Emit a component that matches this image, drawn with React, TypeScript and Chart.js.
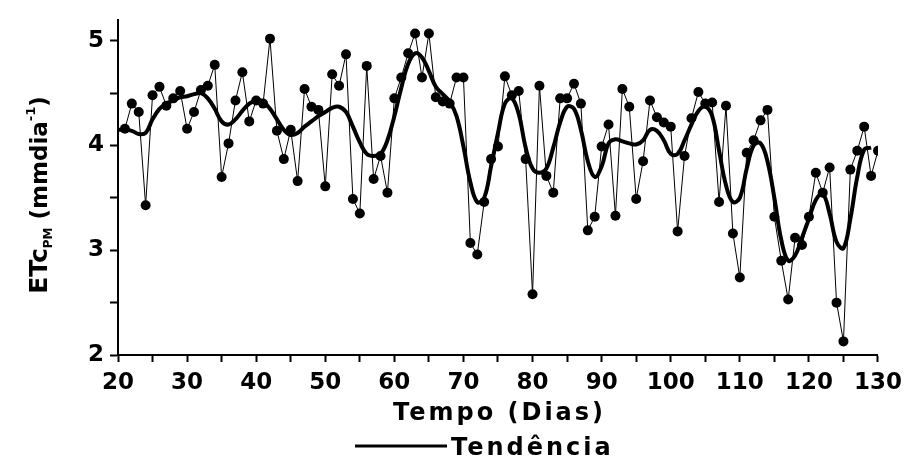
import React, { useEffect, useRef } from "react";
import { Chart, registerables } from "chart.js";

Chart.register(...registerables);

const days = [
  21, 22, 23, 24, 25, 26, 27, 28, 29, 30,
  31, 32, 33, 34, 35, 36, 37, 38, 39, 40,
  41, 42, 43, 44, 45, 46, 47, 48, 49, 50,
  51, 52, 53, 54, 55, 56, 57, 58, 59, 60,
  61, 62, 63, 64, 65, 66, 67, 68, 69, 70,
  71, 72, 73, 74, 75, 76, 77, 78, 79, 80,
  81, 82, 83, 84, 85, 86, 87, 88, 89, 90,
  91, 92, 93, 94, 95, 96, 97, 98, 99, 100,
  101, 102, 103, 104, 105, 106, 107, 108, 109, 110,
  111, 112, 113, 114, 115, 116, 117, 118, 119, 120,
  121, 122, 123, 124, 125, 126, 127, 128, 129, 130,
];

const etcValues = [
  4.16, 4.40, 4.32, 3.43, 4.48, 4.56, 4.38, 4.45, 4.52, 4.16,
  4.32, 4.53, 4.57, 4.77, 3.70, 4.02, 4.43, 4.70, 4.23, 4.43,
  4.40, 5.02, 4.14, 3.87, 4.15, 3.66, 4.54, 4.37, 4.34, 3.61,
  4.68, 4.57, 4.87, 3.49, 3.35, 4.76, 3.68, 3.90, 3.55, 4.45,
  4.65, 4.88, 5.07, 4.65, 5.07, 4.46, 4.42, 4.40, 4.65, 4.65,
  3.07, 2.96, 3.46, 3.87, 3.99, 4.66, 4.48, 4.52, 3.87, 2.58,
  4.57, 3.71, 3.55, 4.45, 4.45, 4.59, 4.40, 3.19, 3.32, 3.99,
  4.20, 3.33, 4.54, 4.37, 3.49, 3.85, 4.43, 4.27, 4.22, 4.18,
  3.18, 3.90, 4.26, 4.51, 4.40, 4.41, 3.46, 4.38, 3.16, 2.74,
  3.93, 4.05, 4.24, 4.34, 3.32, 2.90, 2.53, 3.12, 3.05, 3.32,
  3.74, 3.55, 3.79, 2.50, 2.13, 3.77, 3.95, 4.18, 3.71, 3.95,
];

const trendDays = [
  20, 21, 22, 23, 24, 25, 26, 27, 28, 29,
  30, 31, 32, 33, 34, 35, 36, 37, 38, 39,
  40, 41, 42, 43, 44, 45, 46, 47, 48, 49,
  50, 51, 52, 53, 54, 55, 56, 57, 58, 59,
  60, 61, 62, 63, 64, 65, 66, 67, 68, 69,
  70, 71, 72, 73, 74, 75, 76, 77, 78, 79,
  80, 81, 82, 83, 84, 85, 86, 87, 88, 89,
  90, 91, 92, 93, 94, 95, 96, 97, 98, 99,
  100, 101, 102, 103, 104, 105, 106, 107, 108, 109,
  110, 111, 112, 113, 114, 115, 116, 117, 118, 119,
  120, 121, 122, 123, 124, 125, 126, 127, 128, 129,
];

const trendValues = [
  4.15, 4.15, 4.14, 4.11, 4.12, 4.25, 4.35, 4.40, 4.43, 4.46,
  4.47, 4.49, 4.50, 4.45, 4.35, 4.23, 4.20, 4.25, 4.33, 4.40,
  4.43, 4.42, 4.35, 4.25, 4.15, 4.10, 4.12, 4.18, 4.23, 4.28,
  4.32, 4.36, 4.37, 4.32, 4.18, 4.03, 3.92, 3.90, 3.92, 4.05,
  4.28, 4.55, 4.78, 4.88, 4.84, 4.71, 4.56, 4.49, 4.42, 4.28,
  3.99, 3.65, 3.46, 3.50, 3.80, 4.12, 4.40, 4.45, 4.30, 3.98,
  3.78, 3.74, 3.78, 3.98, 4.22, 4.37, 4.35, 4.15, 3.85, 3.70,
  3.80, 4.02, 4.06, 4.04, 4.02, 4.01, 4.05, 4.15, 4.14, 4.05,
  3.92, 3.92, 4.05, 4.20, 4.33, 4.37, 4.28, 3.95, 3.62, 3.46,
  3.50, 3.78, 4.00, 4.02, 3.85, 3.50, 3.10, 2.90, 2.95, 3.12,
  3.30, 3.48, 3.54, 3.35, 3.08, 3.02, 3.30, 3.70, 3.96, 3.98,
];

const xTickLabels = [20, 30, 40, 50, 60, 70, 80, 90, 100, 110, 120, 130];
const xTickMarks = [20, 25, 30, 35, 40, 45, 50, 55, 60, 65, 70, 75, 80, 85, 90, 95, 100, 105, 110, 115, 120, 125, 130];
const yTickLabels = [2, 3, 4, 5];
const yTickMarks = [2, 2.5, 3, 3.5, 4, 4.5, 5];

const FONT = '"DejaVu Sans", "Liberation Sans", sans-serif';

const textPlugin = {
  id: "customText",
  afterDraw(chart: any) {
    const ctx = chart.ctx as CanvasRenderingContext2D;
    ctx.save();
    ctx.fillStyle = "#000";
    ctx.strokeStyle = "#000";
    (ctx as any).letterSpacing = "3px";
    ctx.font = `bold 24px ${FONT}`;
    ctx.textAlign = "left";
    ctx.textBaseline = "alphabetic";
    ctx.fillText("Tempo (Dias)", 393, 420);

    // legend
    ctx.lineWidth = 3;
    ctx.beginPath();
    ctx.moveTo(355, 446);
    ctx.lineTo(447, 446);
    ctx.stroke();
    ctx.fillText("Tendência", 451, 455);
    ctx.restore();

    // y axis title with sub/superscripts
    ctx.save();
    ctx.fillStyle = "#000";
    (ctx as any).letterSpacing = "0px";
    ctx.translate(47, 195);
    ctx.rotate(-Math.PI / 2);
    ctx.textAlign = "left";
    ctx.textBaseline = "alphabetic";
    const segs = [
      { t: "ETc", size: 25, dy: 0 },
      { t: "PM", size: 12, dy: 5 },
      { t: " (mmdia", size: 23, dy: 0 },
      { t: "-1", size: 13, dy: -12 },
      { t: ")", size: 23, dy: 0 },
    ];
    let total = 0;
    const widths: number[] = [];
    for (const s of segs) {
      ctx.font = `bold ${s.size}px ${FONT}`;
      const w = ctx.measureText(s.t).width;
      widths.push(w);
      total += w;
    }
    let x = -total / 2;
    segs.forEach((s, i) => {
      ctx.font = `bold ${s.size}px ${FONT}`;
      ctx.fillText(s.t, x, s.dy);
      x += widths[i];
    });
    ctx.restore();
  },
};

export default function App() {
  const ref = useRef<HTMLCanvasElement | null>(null);

  useEffect(() => {
    document.body.style.margin = "0";
    if (!ref.current) return;
    const chart = new Chart(ref.current, {
      type: "line",
      data: {
        datasets: [
          {
            label: "ETc",
            data: days.map((d, i) => ({ x: d, y: etcValues[i] })),
            borderColor: "#000",
            backgroundColor: "#000",
            borderWidth: 1,
            pointRadius: 5,
            pointBackgroundColor: "#000",
            pointBorderWidth: 0,
            tension: 0,
          },
          {
            label: "Tendência",
            data: trendDays.map((d, i) => ({ x: d, y: trendValues[i] })),
            borderColor: "#000",
            borderWidth: 4,
            pointRadius: 0,
            tension: 0.4,
          },
        ],
      },
      options: {
        responsive: false,
        animation: false,
        layout: { padding: { top: 15, right: 26, left: 0, bottom: 0 } },
        plugins: {
          legend: { display: false },
          tooltip: { enabled: false },
        },
        scales: {
          x: {
            type: "linear",
            min: 20,
            max: 130,
            afterFit(scale: any) {
              scale.height = 105;
            },
            afterBuildTicks(scale: any) {
              scale.ticks = xTickMarks.map((v) => ({ value: v }));
            },
            ticks: {
              autoSkip: false,
              maxRotation: 0,
              color: "#000",
              padding: 7,
              font: { family: FONT, weight: "bold", size: 23 },
              callback: (v: any) => (xTickLabels.includes(Number(v)) ? String(v) : ""),
            },
            grid: {
              drawOnChartArea: false,
              drawTicks: true,
              tickLength: 7,
              tickWidth: 2,
              tickColor: "#000",
            },
            border: { display: true, color: "#000", width: 2 },
          },
          y: {
            type: "linear",
            min: 2,
            max: 5.2,
            afterFit(scale: any) {
              scale.width = 118;
            },
            afterBuildTicks(scale: any) {
              scale.ticks = yTickMarks.map((v) => ({ value: v }));
            },
            ticks: {
              autoSkip: false,
              color: "#000",
              padding: 6,
              font: { family: FONT, weight: "bold", size: 23 },
              callback: (v: any) => (yTickLabels.includes(Number(v)) ? String(v) : ""),
            },
            grid: {
              drawOnChartArea: false,
              drawTicks: true,
              tickLength: 8,
              tickWidth: 2,
              tickColor: "#000",
            },
            border: { display: true, color: "#000", width: 2 },
          },
        },
      },
      plugins: [textPlugin],
    });
    return () => chart.destroy();
  }, []);

  return (
    <div style={{ position: "absolute", left: 0, top: 0, width: 909, height: 460, background: "#fff" }}>
      <canvas ref={ref} width={909} height={460} />
    </div>
  );
}
